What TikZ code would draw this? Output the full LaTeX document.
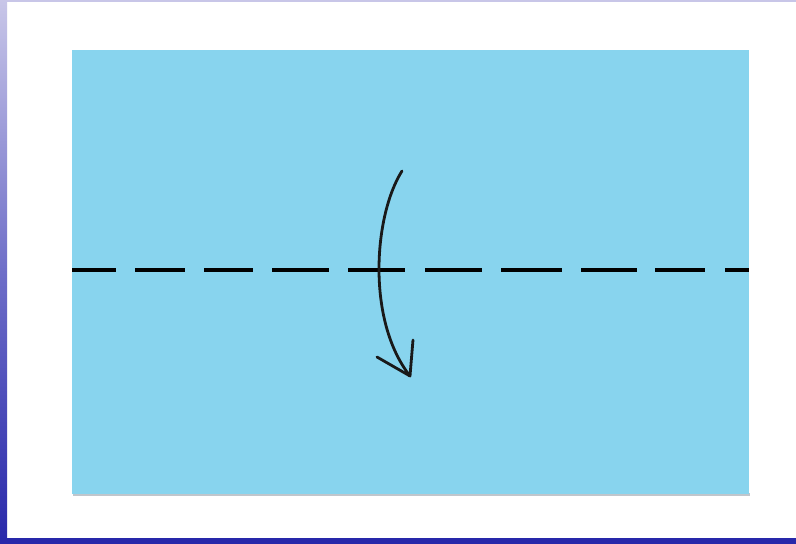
\documentclass[tikz,border=0pt]{standalone}
\usetikzlibrary{calc}
\definecolor{paper}{RGB}{136,212,238}
\definecolor{frametop}{RGB}{200,198,232}
\definecolor{framebot}{RGB}{40,40,170}
\definecolor{shade}{RGB}{150,160,170}
\tikzset{
  foldline/.style={line width=3.6pt, black, dash pattern=on 44pt off 19pt on 50pt off 19pt on 49pt off 19pt on 57pt off 19pt on 57pt off 20pt on 57pt off 19pt on 61pt off 19pt on 56pt off 18pt on 50pt off 20pt on 30pt off 10pt},
  foldarrow/.style={line width=2.8pt, black!90, line cap=round, line join=round},
}
\begin{document}
\begin{tikzpicture}[x=1pt,y=-1pt]
\useasboundingbox (0,0) rectangle (796,544);
\fill[white] (0,0) rectangle (796,544);
% frame
\shade[top color=frametop, bottom color=framebot, middle color={rgb,255:red,110;green,110;blue,200}] (0,0) rectangle (7,544);
\fill[frametop] (0,0) rectangle (796,2);
\fill[framebot] (0,538) rectangle (796,544);
% paper
\fill[shade!60] (73,493) rectangle (750,496);
\fill[paper] (72,50) rectangle (749,494);
% fold line
\coordinate (fl) at (72,270);
\coordinate (fr) at (749,270);
\draw[foldline] (fl) -- (fr);
% arrow
\coordinate (as) at (402,171);
\coordinate (tip) at (410,376);
\coordinate (lw) at (377,357);
\coordinate (rw) at (413,340);
\draw[foldarrow] (as) .. controls (374,215) and (366,320) .. (tip);
\draw[foldarrow] (lw) -- (tip) -- (rw);
\end{tikzpicture}
\end{document}
